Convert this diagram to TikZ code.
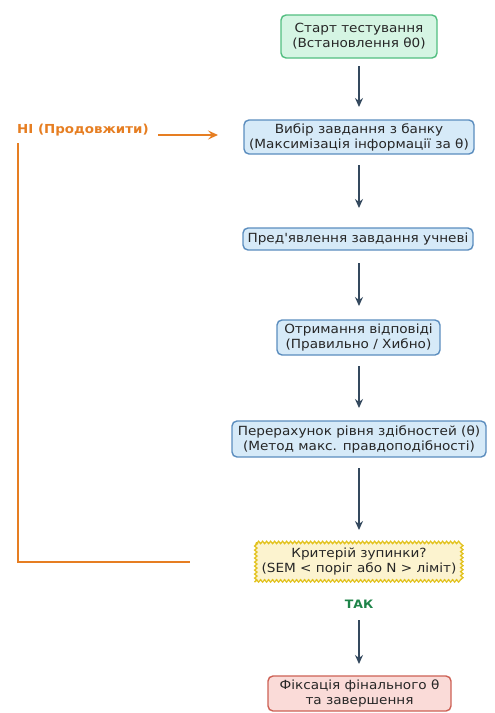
\documentclass[tikz,border=0pt]{standalone}
\usepackage{fontspec}
\setmainfont{DejaVu Sans}[FakeStretch=1.08, Ligatures=TeXOff]
\usetikzlibrary{arrows.meta,decorations.pathmorphing}
\definecolor{gfill}{HTML}{D5F5E3}
\definecolor{gdraw}{HTML}{52BE80}
\definecolor{bfill}{HTML}{D6EAF8}
\definecolor{bdraw}{HTML}{5B8DBE}
\definecolor{yfill}{HTML}{FCF3CF}
\definecolor{ydraw}{HTML}{E2C21E}
\definecolor{rfill}{HTML}{FADBD8}
\definecolor{rdraw}{HTML}{CD6155}
\definecolor{arr}{HTML}{34495E}
\definecolor{okc}{HTML}{1E8449}
\definecolor{noc}{HTML}{E67E22}
\tikzset{
  box/.style={rounded corners=5pt, line width=1.4pt, align=center, inner sep=0pt,
    font=\fontsize{12.6}{15}\selectfont, text=black!85},
  startbox/.style={box, fill=gfill, draw=gdraw},
  procbox/.style={box, fill=bfill, draw=bdraw},
  endbox/.style={box, fill=rfill, draw=rdraw},
  decbox/.style={align=center, inner sep=0pt, fill=yfill,
    font=\fontsize{12.6}{15}\selectfont, text=black!85},
  flow/.style={draw=arr, line width=1.6pt, -{Stealth[length=9pt,width=8pt,inset=3pt]}},
  back/.style={draw=noc, line width=1.6pt},
}
\begin{document}
\begin{tikzpicture}[x=1pt,y=-1pt]
\useasboundingbox (0,0) rectangle (495,713);
\node[startbox, minimum width=156pt, minimum height=43pt] (start) at (359,36.5) {Старт тестування\\(Встановлення θ0)};
\node[procbox, minimum width=230pt, minimum height=34pt] (select) at (359,137) {Вибір завдання з банку\\(Максимізація інформації за θ)};
\node[procbox, minimum width=230pt, minimum height=22pt] (present) at (358,239) {Пред'явлення завдання учневі};
\node[procbox, minimum width=163pt, minimum height=35pt] (resp) at (358.5,337.5) {Отримання відповіді\\(Правильно / Хибно)};
\node[procbox, minimum width=254pt, minimum height=36pt] (recalc) at (359,439) {Перерахунок рівня здібностей (θ)\\(Метод макс. правдоподібності)};
\node[decbox, minimum width=206pt, minimum height=37pt] (dec) at (359,561.5) {Критерій зупинки?\\(SEM < поріг або N > ліміт)};
\draw[ydraw, line width=1.3pt, decorate, decoration={snake, amplitude=1.2pt, segment length=4pt}]
  (dec.north west) rectangle (dec.south east);
\node[endbox, minimum width=183pt, minimum height=35pt] (fin) at (359.5,693.5) {Фіксація фінального θ\\та завершення};
\node[font=\fontsize{11.6}{13}\selectfont\bfseries, text=okc] (yes) at (359,604) {ТАК};
\node[font=\fontsize{12.4}{14}\selectfont\bfseries, text=noc, anchor=west, inner sep=0pt] (no) at (17,130) {НІ (Продовжити)};
\coordinate (c1) at (18,143);
\coordinate (c2) at (18,562);
\coordinate (c3) at (190,562);
\coordinate (a1) at (158,135);
\coordinate (a2) at (218,135);
\draw[flow] (359,66) -- (359,107);
\draw[flow] (359,165) -- (359,208);
\draw[flow] (359,263) -- (359,306);
\draw[flow] (359,366) -- (359,408);
\draw[flow] (359,468) -- (359,530);
\draw[flow] (359,620) -- (359,664);
\draw[back] (c1) -- (c2) -- (c3);
\draw[back, -{Stealth[length=10pt,width=9pt,inset=4pt]}] (a1) -- (a2);
\end{tikzpicture}
\end{document}
